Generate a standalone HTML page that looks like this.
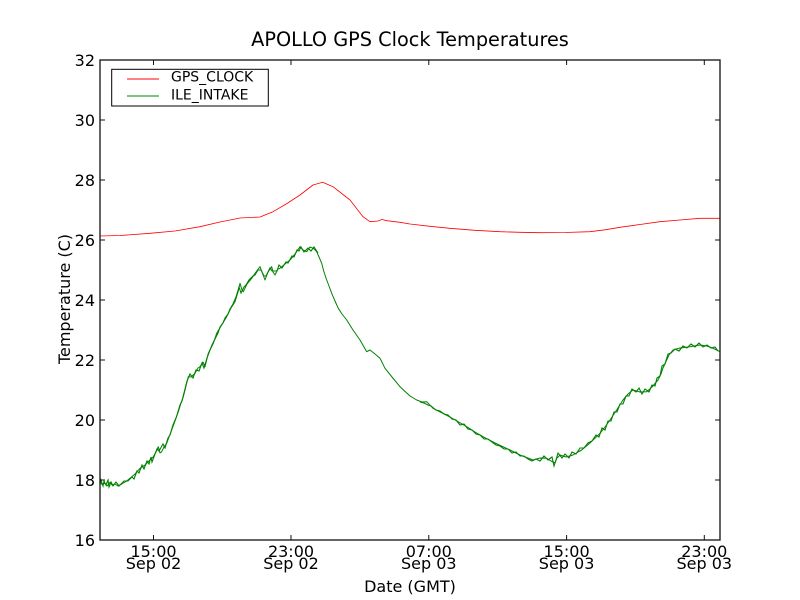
<!DOCTYPE html>
<html><head><meta charset="utf-8"><style>
html,body{margin:0;padding:0;background:#fff;}
svg{display:block;}
text{font-family:"DejaVu Sans","Liberation Sans",sans-serif;fill:#000;}
</style></head><body>
<svg width="800" height="600" viewBox="0 0 800 600" xmlns="http://www.w3.org/2000/svg">
<rect width="800" height="600" fill="#fff"/>
<!-- series -->
<polyline fill="none" stroke="#ff0000" stroke-width="0.8" stroke-linejoin="round" points="100,236 120,235.5 150,233.3 175,231 200,226.7 220,222 240,218 260,217 273,211.7 287,203.5 300,195 313,185 322.7,182.3 333,186.7 350,200 363,216.7 370,221.7 378,221 382,219.5 386.7,220.7 400,222.3 410,224 430,226.3 450,228.3 475,230.3 500,231.7 520,232.3 540,232.7 565,232.5 590,231.7 605,229.8 620,227.3 640,224.5 660,221.7 680,220 700,218.3 720,218.3"/>
<polyline fill="none" stroke="#008000" stroke-width="1" stroke-linejoin="round" points="100,481.7 102,484.5 105,483.3 107,486 110,482.5 112,485 115,484 118,486 121.7,484 126,481.5 130,478.3 135,474 140,468.3 145,465 150,460 153.3,456.7 156,452 158.3,446.7 160,453 161.7,451.7 164,447 166.7,443.3 169,437 171.7,430 175,421 178.3,411.7 181,403 183.3,396.7 186,386 188.3,376.7 191,377 195,373.3 198,368 200,366.7 203,362 205,366.7 208.3,353.3 211,348 213.3,343.3 216.7,333.3 221,326 226.7,316.7 231,308 235,301.7 238,292 240,283.3 242,290 243.3,291.7 247,284 251.7,278.3 256,272 260,266.7 262,272 265,280 268,272 271.7,266.7 273,272 275,275 278,269 280,268.3 285,264 290,260 295,254 300,246.7 303,250 306.7,251.7 310,247 313.3,248.3 316.7,251.7 319,257 321.7,263.3 324,272 326.7,280 329,286 331.7,293.3 335,301 338.3,308.3 342,314 346.7,320 353,330 360,340 366.7,351.7 370,350 375,354 380,358.3 385,368.3 392,377 400,386.7 410,396 416.7,400 422,402 426.7,401.7 433,408.3 450,417 466.7,426.7 475,432 483,436.7 495,443 510,450 520,455 533,460 540,458 546.7,458.3 551,461 555,463 557,458 560,455 566,457 573,455 578,452 581.7,450 590,443 600,433.3 605,427 610,420 616,411 623,400 628,394 633,390 640,392 646.7,391.7 652,387 658,380 661,374 663,368 666.7,360 669,355 673,350 680,348 690,346.7 700,345 707,346 713,348.3 720,351.7"/>
<!-- noise overlay -->
<g fill="none" stroke="#008000" stroke-width="1.1">
<polyline points="100,484 101,480 103,486 104,481 106,485 108,480 109,487 111,482 113,486 116,482 119,486 124,481 128,481 132,477 134,479 137,471 139,473 142,465 144,469 147,461 149,464 151,457 152,462 155,454 157,449 159,451 163,444 165,448 168,438 170,435 173,425 176,418 177,415 180,405 182,401 185,389 187,381 190,374 193,378 196,370 199,371 202,363 204,368 207,358 210,350 212,345 215,339 218,333 220,327 223,323 225,318 228,314 230,309 233,304 236,297 239,287 241,293 244,287 246,285 249,280 253,276 255,275 258,270 261,270 264,276 266,276 270,268 272,271 277,271 279,265 282,268 286,262 288,263 292,256 294,257 297,250 299,251 301,247 304,252 308,248 311,251 314,247 318,253"/>
<polyline points="420,402 424,403 428,405 431,406 436,410 440,411 444,414 448,415 452,419 456,420 460,425 464,424 468,429 472,430 476,434 480,435 484,439 488,439 492,442 496,445 500,446 504,449 508,449 512,453 516,452 520,456 524,456 528,459 532,461 536,459 540,461 544,456 548,460 552,457 554,466 556,460 558,453 562,458 565,454 569,458 572,452 576,454 580,448 584,448 588,443 592,441 596,435 599,437 602,428 605,430 608,421 611,421 614,412 617,412 620,404 623,404 626,396 629,396 632,389 636,392 639,388 642,394 645,389 649,392 652,385 655,386 657,378 660,376 662,366 665,364 668,354 671,353 675,349 679,351 683,346 687,348 691,344 695,347 699,343 703,347 707,345 711,348 715,347 718,351"/>
</g>
<!-- frame -->
<rect x="100" y="60" width="620" height="480" fill="none" stroke="#111" stroke-width="1.3"/>
<!-- ticks -->
<g stroke="#111" stroke-width="1">
<line x1="100" y1="480" x2="105" y2="480"/><line x1="100" y1="420" x2="105" y2="420"/><line x1="100" y1="360" x2="105" y2="360"/><line x1="100" y1="300" x2="105" y2="300"/><line x1="100" y1="240" x2="105" y2="240"/><line x1="100" y1="180" x2="105" y2="180"/><line x1="100" y1="120" x2="105" y2="120"/>
<line x1="720" y1="480" x2="715" y2="480"/><line x1="720" y1="420" x2="715" y2="420"/><line x1="720" y1="360" x2="715" y2="360"/><line x1="720" y1="300" x2="715" y2="300"/><line x1="720" y1="240" x2="715" y2="240"/><line x1="720" y1="180" x2="715" y2="180"/><line x1="720" y1="120" x2="715" y2="120"/>
<line x1="153.5" y1="540" x2="153.5" y2="535"/><line x1="291" y1="540" x2="291" y2="535"/><line x1="428.8" y1="540" x2="428.8" y2="535"/><line x1="566.6" y1="540" x2="566.6" y2="535"/><line x1="704.3" y1="540" x2="704.3" y2="535"/>
<line x1="153.5" y1="60" x2="153.5" y2="65"/><line x1="291" y1="60" x2="291" y2="65"/><line x1="428.8" y1="60" x2="428.8" y2="65"/><line x1="566.6" y1="60" x2="566.6" y2="65"/><line x1="704.3" y1="60" x2="704.3" y2="65"/>
</g>
<!-- y tick labels -->
<g font-size="16" text-anchor="end">
<text x="95" y="546">16</text><text x="95" y="486">18</text><text x="95" y="426">20</text><text x="95" y="366">22</text><text x="95" y="306">24</text><text x="95" y="246">26</text><text x="95" y="186">28</text><text x="95" y="126">30</text><text x="95" y="66">32</text>
</g>
<!-- x tick labels -->
<g font-size="16" text-anchor="middle">
<text x="153.5" y="557">15:00</text><text x="153.5" y="569">Sep 02</text>
<text x="291" y="557">23:00</text><text x="291" y="569">Sep 02</text>
<text x="428.8" y="557">07:00</text><text x="428.8" y="569">Sep 03</text>
<text x="566.6" y="557">15:00</text><text x="566.6" y="569">Sep 03</text>
<text x="704.3" y="557">23:00</text><text x="704.3" y="569">Sep 03</text>
</g>
<text x="410" y="592" font-size="16" text-anchor="middle">Date (GMT)</text>
<text transform="translate(70,299) rotate(-90)" font-size="16" text-anchor="middle">Temperature (C)</text>
<text x="410" y="46" font-size="19.3" text-anchor="middle">APOLLO GPS Clock Temperatures</text>
<!-- legend -->
<rect x="111.7" y="69.3" width="156.6" height="36.7" fill="#fff" stroke="#000" stroke-width="1"/>
<line x1="127" y1="79" x2="159" y2="79" stroke="#ff0000" stroke-width="0.9"/>
<line x1="127" y1="96" x2="159" y2="96" stroke="#008000" stroke-width="0.9"/>
<text x="171" y="81.5" font-size="14">GPS_CLOCK</text>
<text x="171" y="99.5" font-size="14">ILE_INTAKE</text>
</svg>
</body></html>
